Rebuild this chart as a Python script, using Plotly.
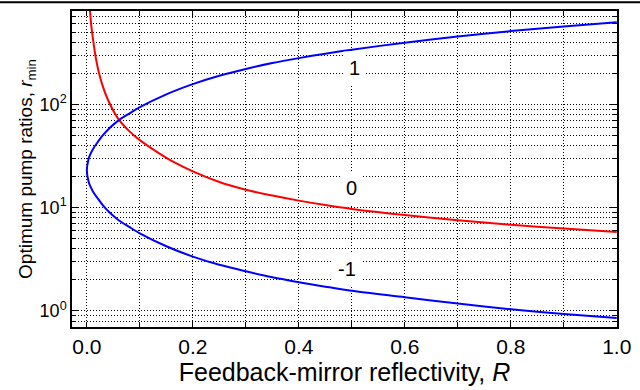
import math
import plotly.graph_objects as go

# Zero-order solution (label "0")
R_zero = [0.006, 0.008, 0.011, 0.014, 0.017, 0.022, 0.03, 0.04, 0.058, 0.08,
          0.1, 0.13, 0.16, 0.2, 0.25, 0.3, 0.35, 0.4, 0.45, 0.5, 0.6, 0.7, 0.8, 0.9, 1.0]
r_zero = [800, 600, 450, 350, 280, 210, 150, 110, 74, 55,
          45, 35.2, 28.3, 22.4, 17.7, 14.9, 13.1, 11.7, 10.6, 9.73, 8.49, 7.57, 6.84, 6.27, 5.8]

# Upper branch (label "1")
R_plus = [0.0, 0.003, 0.006, 0.012, 0.02, 0.03, 0.045, 0.06, 0.08, 0.1, 0.15,
          0.2, 0.25, 0.3, 0.35, 0.4, 0.45, 0.5, 0.6, 0.7, 0.8, 0.9, 1.0]
r_plus = [23, 29.2, 32.4, 37.2, 42.7, 50, 60.3, 70, 81.3, 93.8, 125,
          157, 189, 220, 251, 280, 309, 338, 395, 454, 511, 566, 624]

# Lower branch (label "-1")
R_minus = [0.003, 0.006, 0.012, 0.02, 0.03, 0.045, 0.06, 0.08, 0.1, 0.15,
           0.2, 0.25, 0.3, 0.35, 0.4, 0.45, 0.5, 0.6, 0.7, 0.8, 0.9, 1.0]
r_minus = [18.1, 16.3, 14.2, 12.4, 10.6, 8.77, 7.56, 6.51, 5.64, 4.23,
           3.36, 2.8, 2.42, 2.12, 1.9, 1.72, 1.566, 1.36, 1.18, 1.04, 0.937, 0.855]

# Curve labels
label_text = ["1", "0", "-1"]
label_R = [0.505, 0.5, 0.491]
label_r = [223, 15.4, 2.57]

# Axis ticks
x_tickvals = [0.0, 0.1, 0.2, 0.3, 0.4, 0.5, 0.6, 0.7, 0.8, 0.9, 1.0]
x_ticktext = ["0.0", "", "0.2", "", "0.4", "", "0.6", "", "0.8", "", "1.0"]
y_tickvals = [1, 10, 100]
y_ticktext = ["10<sup>0</sup>", "10<sup>1</sup>", "10<sup>2</sup>"]
y_minor = [0.7, 0.8, 0.9, 2, 3, 4, 5, 6, 7, 8, 9,
           20, 30, 40, 50, 60, 70, 80, 90, 200, 300, 400, 500, 600, 700, 800]

FONT = "Liberation Sans, Arial, sans-serif"
GRID = dict(showgrid=True, gridcolor="#000", griddash="1px,2px", gridwidth=1)

# The +/-1 branches form one continuous fold through R = 0
blue_R = list(reversed(R_minus)) + R_plus
blue_r = list(reversed(r_minus)) + r_plus

fig = go.Figure()
fig.add_trace(go.Scatter(x=R_zero, y=r_zero, mode="lines",
                         line=dict(color="#ff0000", width=2, shape="spline", smoothing=0.8),
                         showlegend=False))
fig.add_trace(go.Scatter(x=blue_R, y=blue_r, mode="lines",
                         line=dict(color="#0000ff", width=2, shape="spline", smoothing=0.8),
                         showlegend=False))

for t, xr, yr in zip(label_text, label_R, label_r):
    fig.add_annotation(x=xr, y=math.log10(yr), text=t, showarrow=False,
                       font=dict(family=FONT, size=20, color="black"),
                       bgcolor="white", borderpad=5)

# thin rule across the top of the page
fig.add_shape(type="line", xref="paper", yref="paper", x0=-0.2, x1=1.1,
              y0=1.028, y1=1.028, line=dict(color="black", width=2))

fig.update_xaxes(range=[-0.028, 1.0005], tickvals=x_tickvals, ticktext=x_ticktext,
                 ticks="inside", ticklen=5, tickwidth=1, tickcolor="black",
                 showline=True, linecolor="black", linewidth=1.5, mirror="allticks",
                 zeroline=False, ticklabeloverflow="allow", **GRID,
                 tickfont=dict(family=FONT, size=21, color="black"),
                 title=dict(text="Feedback-mirror reflectivity, <i>R</i>",
                            font=dict(family=FONT, size=25, color="black"),
                            standoff=3))
fig.update_yaxes(type="log", range=[math.log10(0.7), math.log10(800)],
                 tickvals=y_tickvals, ticktext=y_ticktext,
                 ticks="inside", ticklen=7, tickwidth=1, tickcolor="black",
                 showline=True, linecolor="black", linewidth=1.5, mirror="allticks",
                 zeroline=False, **GRID,
                 minor=dict(tickvals=y_minor, ticks="inside", ticklen=4,
                            tickcolor="black", **GRID),
                 tickfont=dict(family=FONT, size=18, color="black"),
                 title=dict(text="Optimum pump ratios, <i>r</i><sub>min</sub>",
                            font=dict(family=FONT, size=19, color="black"),
                            standoff=2))

fig.update_layout(width=640, height=390, margin=dict(l=72, r=13, t=9, b=63),
                  plot_bgcolor="white", paper_bgcolor="white")

fig.write_html("out.html")
